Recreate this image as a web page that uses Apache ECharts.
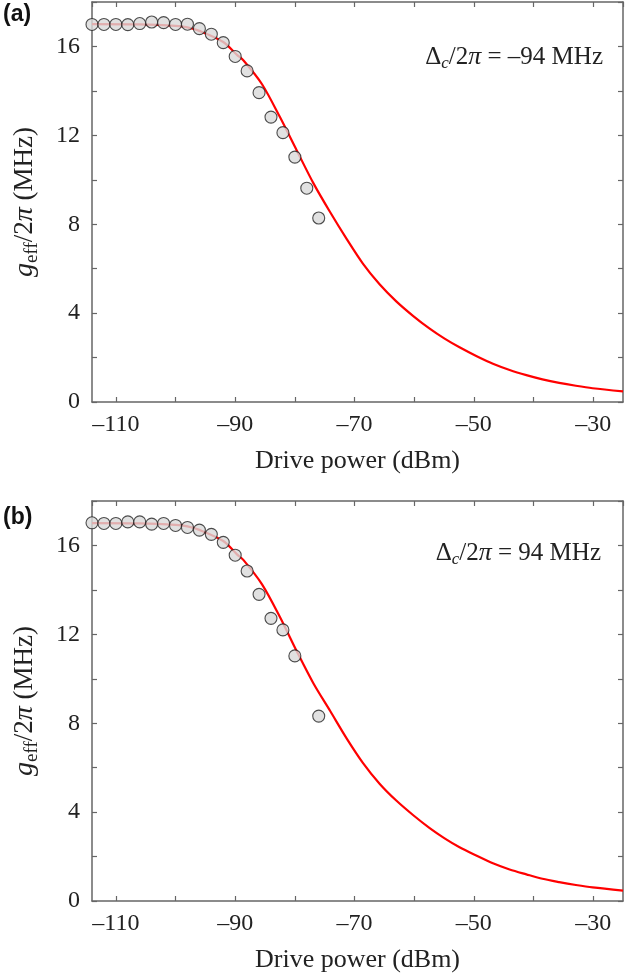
<!DOCTYPE html>
<html>
<head>
<meta charset="utf-8">
<script src="https://cdn.jsdelivr.net/npm/echarts@6/dist/echarts.min.js"></script>
<style>
html,body{margin:0;padding:0;background:#fff;}
#chart{width:641px;height:978px;}
</style>
</head>
<body>
<div id="chart"></div>
<script>
// ---- data ----
const xRange = [-114, -25];
const yRange = [0, 18];
const xTickLabels = [-110, -90, -70, -50, -30];
const yTickLabels = [0, 4, 8, 12, 16];

// panel (a) measured points
const powerA = [-114,-112,-110,-108,-106,-104,-102,-100,-98,-96,-94,-92,-90,-88,-86,-84,-82,-80,-78,-76];
const gA = [16.99,16.99,16.99,16.98,17.03,17.10,17.07,16.99,17.00,16.80,16.55,16.17,15.55,14.90,13.92,12.82,12.12,11.02,9.62,8.28];
// panel (a) fitted curve
const fitPowerA = [-114,-106,-100,-98,-96,-92,-89.7,-88.6,-85.5,-82.5,-79.7,-76.9,-74.1,-71.3,-68.6,-65.8,-63,-60.2,-57.4,-54.9,-52.4,-49.6,-46.8,-44,-41.2,-38.5,-35.7,-32.9,-30.1,-25];
const fitGA = [17.0,16.99,16.93,16.86,16.7,16.2,15.62,15.37,14.3,12.82,11.33,9.85,8.55,7.33,6.23,5.3,4.53,3.88,3.3,2.85,2.46,2.07,1.72,1.44,1.21,1.02,0.86,0.73,0.62,0.48];

// panel (b) measured points
const powerB = [-114,-112,-110,-108,-106,-104,-102,-100,-98,-96,-94,-92,-90,-88,-86,-84,-82,-80,-76];
const gB = [17.02,16.99,16.99,17.06,17.06,16.96,16.99,16.90,16.81,16.69,16.50,16.14,15.56,14.85,13.80,12.72,12.20,11.03,8.32];
// panel (b) fitted curve
const fitPowerB = [-114,-106,-100,-98,-96,-92,-89.7,-88.6,-85.5,-82.5,-79.7,-76.9,-74.1,-71.3,-68.6,-65.8,-63,-60.2,-57.4,-54.9,-52.4,-49.6,-46.8,-44,-41.2,-38.5,-35.7,-32.9,-30.1,-25];
const fitGB = [17.0,16.99,16.93,16.86,16.7,16.2,15.6,15.34,14.25,12.78,11.25,9.8,8.56,7.31,6.22,5.28,4.52,3.87,3.28,2.82,2.42,2.05,1.7,1.42,1.2,1.0,0.85,0.72,0.61,0.47];

const annotA = '{n|\u0394}{sub|c}{n|/2}{i|\u03c0}{n| = \u201394 MHz}';
const annotB = '{n|\u0394}{sub|c}{n|/2}{i|\u03c0}{n| = 94 MHz}';

// ---- styling ----
const FONT = 'Liberation Serif';
const AXC = '#666';
const TXT = '#222';

function fmtNum(v) {
  return v < 0 ? '\u2013' + Math.abs(v) : String(v);
}

function xAxisDef(gridIndex, position, showLabels) {
  return {
    type: 'value', gridIndex: gridIndex, position: position,
    min: xRange[0], max: xRange[1], minInterval: 10, maxInterval: 10,
    splitLine: {show: false},
    axisLine: {show: true, onZero: false, lineStyle: {color: AXC, width: 1.5}},
    axisTick: {show: true, inside: true, length: 5, lineStyle: {color: AXC, width: 1.2}},
    axisLabel: {
      show: showLabels, margin: 11, fontFamily: FONT, fontSize: 24, color: TXT,
      showMinLabel: false, showMaxLabel: false,
      formatter: function (v) { return xTickLabels.indexOf(v) >= 0 ? fmtNum(v) : ''; }
    },
    name: showLabels ? 'Drive power (dBm)' : '',
    nameLocation: 'middle', nameGap: 46,
    nameTextStyle: {fontFamily: FONT, fontSize: 26, color: TXT}
  };
}

function yAxisDef(gridIndex, position, showLabels) {
  return {
    type: 'value', gridIndex: gridIndex, position: position,
    min: yRange[0], max: yRange[1], interval: 2,
    splitLine: {show: false},
    axisLine: {show: true, onZero: false, lineStyle: {color: AXC, width: 1.5}},
    axisTick: {show: true, inside: true, length: 5, lineStyle: {color: AXC, width: 1.2}},
    axisLabel: {
      show: showLabels, margin: 12, fontFamily: FONT, fontSize: 24, color: TXT,
      formatter: function (v) { return yTickLabels.indexOf(v) >= 0 ? fmtNum(v) : ''; }
    },
    name: showLabels ? '{i|g}{sub|eff}{n|/2}{i|\u03c0}{n| (MHz)}' : '',
    nameLocation: 'middle', nameGap: 50,
    nameTextStyle: {
      fontFamily: FONT, fontSize: 27, color: TXT,
      rich: {
        i: {fontFamily: FONT, fontSize: 28, fontStyle: 'italic', color: TXT},
        n: {fontFamily: FONT, fontSize: 27, color: TXT},
        sub: {fontFamily: FONT, fontSize: 19, color: TXT, verticalAlign: 'bottom', padding: [15, 0, 0, 0]}
      }
    }
  };
}

function pairs(xs, ys) { return xs.map(function (x, i) { return [x, ys[i]]; }); }

const annotRich = {
  n: {fontFamily: FONT, fontSize: 25, fill: TXT},
  i: {fontFamily: FONT, fontSize: 26, fontStyle: 'italic', fill: TXT},
  sub: {fontFamily: FONT, fontSize: 17, fontStyle: 'italic', fill: TXT, verticalAlign: 'bottom', padding: [14, 0, 0, 0]}
};

const lineStyle = {color: '#ff0000', width: 2.2};
const dotStyle = {color: '#d9d9d9', borderColor: '#222', borderWidth: 1.1};

const option = {
  animation: false,
  backgroundColor: '#fff',
  grid: [
    {left: 92, top: 2, width: 531, height: 400, containLabel: false},
    {left: 92, top: 501, width: 531, height: 400, containLabel: false}
  ],
  xAxis: [xAxisDef(0, 'bottom', true), xAxisDef(0, 'top', false), xAxisDef(1, 'bottom', true), xAxisDef(1, 'top', false)],
  yAxis: [yAxisDef(0, 'left', true), yAxisDef(0, 'right', false), yAxisDef(1, 'left', true), yAxisDef(1, 'right', false)],
  series: [
    {type: 'line', xAxisIndex: 0, yAxisIndex: 0, data: pairs(fitPowerA, fitGA), smooth: 0.3, showSymbol: false, lineStyle: lineStyle, z: 2},
    {type: 'scatter', xAxisIndex: 0, yAxisIndex: 0, data: pairs(powerA, gA), symbol: 'circle', symbolSize: 12, itemStyle: dotStyle, z: 3},
    {type: 'line', xAxisIndex: 2, yAxisIndex: 2, data: pairs(fitPowerB, fitGB), smooth: 0.3, showSymbol: false, lineStyle: lineStyle, z: 2},
    {type: 'scatter', xAxisIndex: 2, yAxisIndex: 2, data: pairs(powerB, gB), symbol: 'circle', symbolSize: 12, itemStyle: dotStyle, z: 3}
  ],
  graphic: [
    {type: 'text', left: 3, top: 3, style: {text: '(a)', font: 'bold 23px "Liberation Sans"', fill: '#111'}},
    {type: 'text', left: 3, top: 506, style: {text: '(b)', font: 'bold 23px "Liberation Sans"', fill: '#111'}},
    {type: 'text', right: 38, top: 44, style: {text: annotA, rich: annotRich, font: '25px "Liberation Serif"', fill: TXT}},
    {type: 'text', right: 40, top: 540, style: {text: annotB, rich: annotRich, font: '25px "Liberation Serif"', fill: TXT}}
  ]
};

const chart = echarts.init(document.getElementById('chart'), null, {renderer: 'canvas'});
chart.setOption(option);
</script>
</body>
</html>
